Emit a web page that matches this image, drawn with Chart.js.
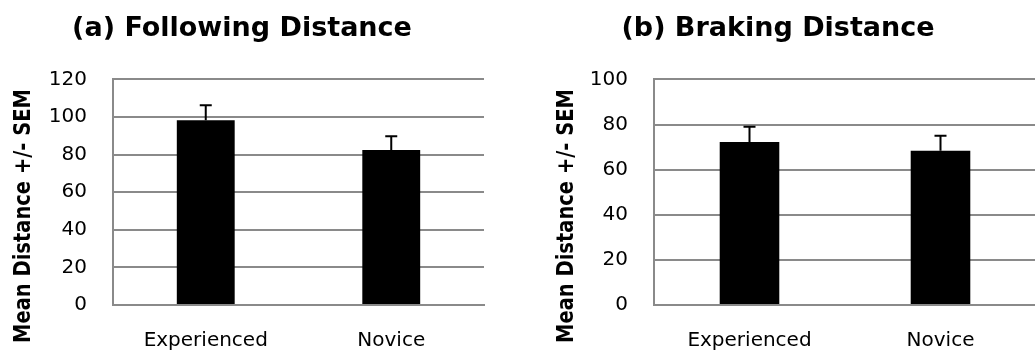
<!DOCTYPE html>
<html>
<head>
<meta charset="utf-8">
<script src="https://cdn.jsdelivr.net/npm/chart.js@4.4.1/dist/chart.umd.min.js"></script>
<style>
  html, body { margin: 0; padding: 0; background: #fff; overflow: hidden; }
  body { width: 1035px; height: 361px; position: relative; }
  canvas { position: absolute; top: 0; }
  #following { left: 0; }
  #braking { left: 520px; }
</style>
</head>
<body>
<canvas id="following" width="486" height="361"></canvas>
<canvas id="braking" width="540" height="361"></canvas>
<script>
// Driver groups shown on both panels
const groups = ['Experienced', 'Novice'];

// (a) Following distance: group means and standard errors
const followingMean = [98.3, 82.4];
const followingSem = [7.9, 7.3];
const followingTicks = [0, 20, 40, 60, 80, 100, 120];

// (b) Braking distance: group means and standard errors
const brakingMean = [72.3, 68.4];
const brakingSem = [6.7, 6.6];
const brakingTicks = [0, 20, 40, 60, 80, 100];

const yAxisTitle = 'Mean Distance +/- SEM';

const FONT = "'DejaVu Sans', sans-serif";
const GRID = '#8a8a8a';

// Upper-only error whiskers with a short cap, placed via the value scale
const sem_whiskers = {
  id: 'semWhiskers',
  afterDatasetsDraw(chart, args, opts) {
    const { ctx, scales: { y } } = chart;
    const meta = chart.getDatasetMeta(0);
    const ds = chart.data.datasets[0];
    ctx.save();
    ctx.strokeStyle = '#000';
    ctx.lineWidth = 2;
    meta.data.forEach((bar, i) => {
      const top = y.getPixelForValue(ds.data[i] + opts.sem[i]);
      ctx.beginPath();
      ctx.moveTo(bar.x, bar.y);
      ctx.lineTo(bar.x, top);
      ctx.moveTo(bar.x - 6, top);
      ctx.lineTo(bar.x + 6, top);
      ctx.stroke();
    });
    ctx.restore();
  }
};

// Rotated axis caption at a fixed spot beside the tick labels,
// with slightly taller glyphs than a plain rotated string
const side_caption = {
  id: 'sideCaption',
  afterDraw(chart, args, opts) {
    const { ctx } = chart;
    ctx.save();
    ctx.translate(opts.x, opts.y);
    ctx.rotate(-Math.PI / 2);
    ctx.scale(1, 1.2);
    ctx.font = 'bold 19.5px ' + FONT;
    ctx.fillStyle = '#000';
    ctx.textAlign = 'center';
    ctx.textBaseline = 'middle';
    ctx.fillText(opts.text, 0, 0);
    ctx.restore();
  }
};

function panel(canvasId, title, means, sems, ticks, axisWidth, padRight, captionX) {
  return new Chart(document.getElementById(canvasId), {
    type: 'bar',
    data: {
      labels: groups,
      datasets: [{
        data: means,
        backgroundColor: '#000',
        borderWidth: 0,
        categoryPercentage: 1,
        barPercentage: 0.312
      }]
    },
    options: {
      responsive: false,
      animation: false,
      events: [],
      layout: { padding: { left: 0, right: padRight, top: 0, bottom: 0 } },
      plugins: {
        legend: { display: false },
        tooltip: { enabled: false },
        title: {
          display: true,
          text: title,
          color: '#000',
          font: { family: FONT, size: 27, weight: 'bold', lineHeight: 1.2 },
          padding: { top: 13, bottom: 34 }
        },
        semWhiskers: { sem: sems },
        sideCaption: { text: yAxisTitle, x: captionX, y: 216 }
      },
      scales: {
        x: {
          grid: { display: false, drawTicks: false },
          border: { display: true, color: GRID, width: 2 },
          ticks: { color: '#000', padding: 24, font: { family: FONT, size: 20 } },
          afterFit(scale) { scale.height = 56; }
        },
        y: {
          min: ticks[0],
          max: ticks[ticks.length - 1],
          afterBuildTicks(scale) { scale.ticks = ticks.map(v => ({ value: v })); },
          grid: { color: GRID, lineWidth: 2, drawTicks: false },
          border: { display: true, color: GRID, width: 2 },
          ticks: { color: '#000', padding: 26, font: { family: FONT, size: 20 } },
          afterFit(scale) { scale.width = axisWidth; }
        }
      }
    },
    plugins: [sem_whiskers, side_caption]
  });
}

panel('following', '(a) Following Distance', followingMean, followingSem, followingTicks, 113, 2, 24);
panel('braking', '(b) Braking Distance', brakingMean, brakingSem, brakingTicks, 134, 24, 47);
</script>
</body>
</html>
